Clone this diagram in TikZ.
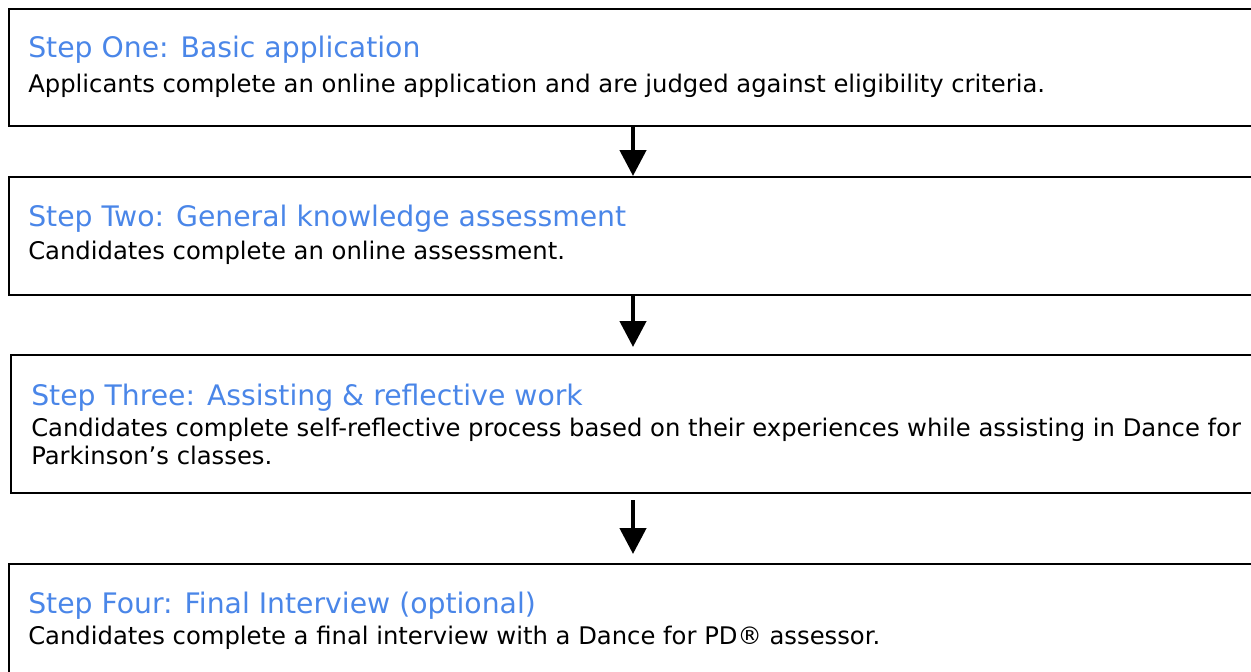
\documentclass[tikz,border=0pt]{standalone}
\usepackage{fontspec}
\setmainfont{DejaVu Sans}
\usepackage{tikz}
\usetikzlibrary{arrows.meta, positioning}

\definecolor{stepblue}{RGB}{74,134,232}

\begin{document}
\begin{tikzpicture}[
    stepbox/.style={
        rectangle, draw, line width=1.5pt, anchor=north west,
        minimum width=936pt, inner sep=0pt
    },
    head/.style={
        anchor=base west, inner sep=0pt, text=stepblue,
        font=\fontsize{21.2}{25}\selectfont
    },
    body/.style={
        anchor=base west, inner sep=0pt,
        font=\fontsize{18.2}{21}\selectfont
    },
    arr/.style={-{Triangle[width=19.5pt, length=19.5pt]}, line width=3.4pt},
]

\useasboundingbox (0,0) rectangle (938.25pt,-503.25pt);

%% The four step boxes (right and bottom edges run off the page)
\node[stepbox, minimum height=87.75pt] (s1) at (6pt,-6pt) {};
\node[stepbox, minimum height=88.5pt, below=36.75pt of s1.south west, anchor=north west] (s2) {};
\node[stepbox, minimum height=103.5pt, minimum width=933pt,
      below=43.5pt of s2.south west, anchor=north west, xshift=1.5pt] (s3) {};
\node[stepbox, minimum height=105pt, below=51.75pt of s3.south west, anchor=north west, xshift=-1.5pt] (s4) {};

%% Step titles and descriptions
\node[head] (h1) at ([shift={(15pt,-36.75pt)}]s1.north west) {Step One: Basic application};
\node[body] (d1) at ([shift={(15pt,-63pt)}]s1.north west)
    {Applicants complete an online application and are judged against eligibility criteria.};

\node[head] (h2) at ([shift={(15pt,-37.5pt)}]s2.north west) {Step Two: General knowledge assessment};
\node[body] (d2) at ([shift={(15pt,-62.25pt)}]s2.north west)
    {Candidates complete an online assessment.};

\node[head] (h3) at ([shift={(15.75pt,-38.25pt)}]s3.north west) {Step Three: Assisting \& reflective work};
\node[body] (d3) at ([shift={(15.75pt,-61.5pt)}]s3.north west)
    {Candidates complete self-reflective process based on their experiences while assisting in Dance for};
\node[body] (d3b) at ([shift={(15.75pt,-82.5pt)}]s3.north west)
    {Parkinson’s classes.};

\node[head] (h4) at ([shift={(15pt,-37.5pt)}]s4.north west) {Step Four: Final Interview (optional)};
\node[body] (d4) at ([shift={(15pt,-60.75pt)}]s4.north west)
    {Candidates complete a final interview with a Dance for PD® assessor.};

%% Arrows between steps
\draw[arr] (s1.south) -- (s2.north);
\draw[arr, shorten >=5.25pt] (s2.south) -- (s3.north);
\draw[arr, shorten <=4.5pt, shorten >=6.75pt] (s3.south) -- (s4.north);

\end{tikzpicture}
\end{document}
